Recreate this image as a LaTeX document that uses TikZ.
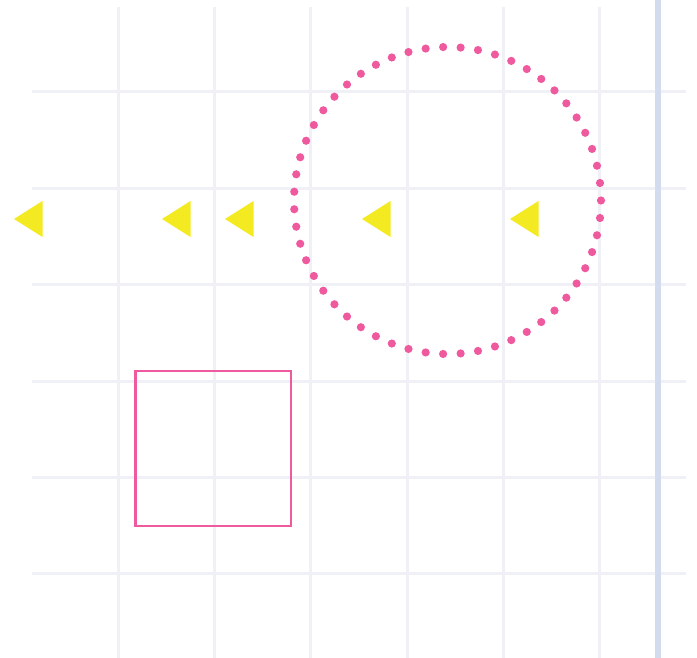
\documentclass[tikz,border=0pt]{standalone}
\usepackage{tikz}
\definecolor{gridc}{HTML}{F0F0F7}
\definecolor{bluec}{HTML}{D3DBEE}
\definecolor{pinkc}{HTML}{EF5A9F}
\definecolor{yellowc}{HTML}{F3EA22}
\tikzset{
  gridline/.style={draw=gridc, line width=3pt},
  tri/.style={fill=yellowc},
  dotc/.style={fill=pinkc},
}
\begin{document}
\begin{tikzpicture}[x=1pt,y=-1pt]
\useasboundingbox (0,0) rectangle (697,658);
\fill[white] (0,0) rectangle (697,658);
% vertical grid lines
\foreach \gx in {118.3,214.6,310.9,407.2,503.5,599.8}
  \draw[gridline] (\gx,7) -- (\gx,658);
% horizontal grid lines
\foreach \gy in {92,188.4,284.7,381,477.3,573.7}
  \draw[gridline] (32,\gy) -- (686,\gy);
% blue vertical line
\draw[draw=bluec, line width=6pt] (658,0) -- (658,658);
% pink rectangle
\draw[draw=pinkc, line width=2.6pt] (135.2,371) rectangle (290.8,526);
% dotted circle (55 dots)
\foreach \k in {0,...,54}
  \fill[dotc] ({447.5+153.5*cos(6.545454*\k)},{200.5+153.5*sin(6.545454*\k)}) circle[radius=4.1];
% triangles
\foreach \tx in {14,162,225,362,510}
  \fill[tri] (\tx,219) -- (\tx+28.5,201) -- (\tx+28.5,237) -- cycle;
\end{tikzpicture}
\end{document}
